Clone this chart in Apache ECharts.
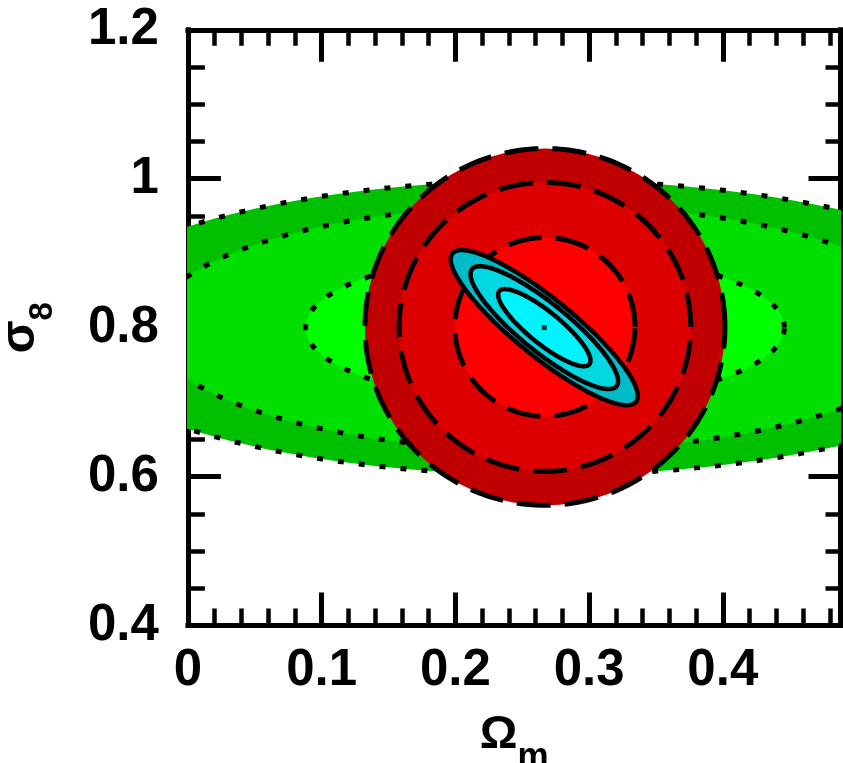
<!DOCTYPE html>
<html>
<head>
<meta charset="utf-8">
<title>Omega_m – sigma_8 constraints</title>
<script src="https://cdn.jsdelivr.net/npm/echarts@6/dist/echarts.min.js"></script>
<style>
  html, body { margin: 0; padding: 0; background: #ffffff; }
  #chart { width: 843px; height: 763px; }
</style>
</head>
<body>
<div id="chart"></div>
<script>
// ---- axes -------------------------------------------------------------
const omegaMin = 0;
const omegaMax = 0.488;
const omegaMajorStep = 0.1;
const omegaMinorStep = 0.02;
const sigmaMin = 0.4;
const sigmaMax = 1.2;
const sigmaMajorStep = 0.2;
const sigmaMinorStep = 0.05;

// ---- confidence regions, listed outermost (99%) to innermost (68%) ----
const levelNames = ['99%', '95%', '68%'];

// wide horizontal constraint (green, dotted outlines)
const greenCenter = [0.267, 0.800];
const greenHalfWidth = [0.367, 0.294, 0.179];
const greenHalfHeight = [0.198, 0.165, 0.101];
const greenColors = ['#00c000', '#00df00', '#00ff00'];

// round constraint (red, dashed outlines)
const redCenter = [0.267, 0.801];
const redHalfWidth = [0.1346, 0.109, 0.0673];
const redHalfHeight = [0.2395, 0.194, 0.120];
const redColors = ['#c00000', '#dd0000', '#ff0000'];

// tilted joint constraint (cyan, solid outlines):
// long and short semi-axis vectors as (ΔΩm, Δσ8)
const cyanCenter = [0.2665, 0.800];
const cyanLongAxis = [[0.0686, -0.0997], [0.0540, -0.0786], [0.0337, -0.0490]];
const cyanShortAxis = [[0.0136, 0.0303], [0.0113, 0.0250], [0.0075, 0.0167]];
const cyanColors = ['#00bcc8', '#00d8e2', '#00f4ff'];

// best-fit point
const bestFit = [[0.2665, 0.800]];

// ---- drawing helpers --------------------------------------------------
const FONT = 'Liberation Sans';

function contourRenderer(center, longAxes, shortAxes, fills, lineWidth, lineDash) {
  return function (params, api) {
    const i = params.dataIndex;
    const u = longAxes[i];
    const v = shortAxes[i];
    const points = [];
    const n = 240;
    for (let k = 0; k < n; k++) {
      const t = 2 * Math.PI * k / n;
      const c = Math.cos(t), s = Math.sin(t);
      points.push(api.coord([
        center[0] + u[0] * c + v[0] * s,
        center[1] + u[1] * c + v[1] * s
      ]));
    }
    return {
      type: 'polygon',
      shape: { points: points },
      style: {
        fill: fills[i],
        stroke: '#000000',
        lineWidth: lineWidth,
        lineDash: lineDash,
        lineCap: 'butt',
        lineJoin: 'round'
      }
    };
  };
}

function alignedAxes(halfW, halfH) {
  return {
    long: halfW.map(function (w) { return [w, 0]; }),
    short: halfH.map(function (h) { return [0, h]; })
  };
}

const greenAxes = alignedAxes(greenHalfWidth, greenHalfHeight);
const redAxes = alignedAxes(redHalfWidth, redHalfHeight);

function levelData() {
  return levelNames.map(function (name, i) { return { name: name, value: [i] }; });
}

const lineBlack = { color: '#000000', width: 5, cap: 'square' };

function valueAxis(opts) {
  return Object.assign({
    type: 'value',
    splitLine: { show: false },
    axisLabel: { show: false },
    axisTick: { show: true, inside: true },
    axisLine: { show: false, onZero: false }
  }, opts);
}

const labelStyle = {
  fontFamily: FONT,
  fontWeight: 'bold',
  fontSize: 51,
  color: '#000000'
};

const chart = echarts.init(document.getElementById('chart'), null, { renderer: 'canvas' });

chart.setOption({
  animation: false,
  backgroundColor: '#ffffff',
  grid: {
    left: 187.9, right: 2.5, top: 29.8, bottom: 137.5,
    containLabel: false,
    outerBoundsMode: 'none'
  },
  xAxis: [
    valueAxis({
      position: 'bottom', min: omegaMin, max: omegaMax, interval: omegaMajorStep,
      axisLine: { show: true, onZero: false, lineStyle: lineBlack },
      axisTick: { show: true, inside: true, length: 33, lineStyle: { color: '#000', width: 5 } },
      axisLabel: Object.assign({ show: true, margin: 20, showMaxLabel: false }, labelStyle),
      name: '{a|Ω}{b|m}',
      nameLocation: 'middle',
      nameGap: 86,
      nameTextStyle: {
        color: '#000',
        rich: {
          a: { fontFamily: FONT, fontWeight: 'bold', fontSize: 47, color: '#000', padding: [0, 0, 16, 0], verticalAlign: 'bottom' },
          b: { fontFamily: FONT, fontWeight: 'bold', fontSize: 35, color: '#000', verticalAlign: 'bottom' }
        }
      }
    }),
    valueAxis({
      position: 'bottom', min: omegaMin, max: omegaMax, interval: omegaMinorStep,
      axisTick: { show: true, inside: true, length: 17, lineStyle: { color: '#000', width: 4.5 } }
    }),
    valueAxis({
      position: 'top', min: omegaMin, max: omegaMax, interval: omegaMajorStep,
      axisLine: { show: true, onZero: false, lineStyle: lineBlack },
      axisTick: { show: true, inside: true, length: 32, lineStyle: { color: '#000', width: 5 } }
    }),
    valueAxis({
      position: 'top', min: omegaMin, max: omegaMax, interval: omegaMinorStep,
      axisTick: { show: true, inside: true, length: 16, lineStyle: { color: '#000', width: 4.5 } }
    })
  ],
  yAxis: [
    valueAxis({
      position: 'left', min: sigmaMin, max: sigmaMax, interval: sigmaMajorStep,
      axisLine: { show: true, onZero: false, lineStyle: lineBlack },
      axisTick: { show: true, inside: true, length: 33, lineStyle: { color: '#000', width: 5 } },
      axisLabel: Object.assign({ show: true, margin: 29 }, labelStyle),
      name: '{a|σ}{b|8}',
      nameLocation: 'middle',
      nameGap: 128,
      nameTextStyle: {
        color: '#000',
        rich: {
          a: { fontFamily: FONT, fontWeight: 'bold', fontSize: 48, color: '#000', padding: [0, 0, 15, 0], verticalAlign: 'bottom' },
          b: { fontFamily: FONT, fontWeight: 'bold', fontSize: 33, color: '#000', verticalAlign: 'bottom' }
        }
      }
    }),
    valueAxis({
      position: 'left', min: sigmaMin, max: sigmaMax, interval: sigmaMinorStep,
      axisTick: { show: true, inside: true, length: 17, lineStyle: { color: '#000', width: 4.5 } }
    }),
    valueAxis({
      position: 'right', min: sigmaMin, max: sigmaMax, interval: sigmaMajorStep,
      axisLine: { show: true, onZero: false, lineStyle: lineBlack },
      axisTick: { show: true, inside: true, length: 32, lineStyle: { color: '#000', width: 5 } }
    }),
    valueAxis({
      position: 'right', min: sigmaMin, max: sigmaMax, interval: sigmaMinorStep,
      axisTick: { show: true, inside: true, length: 15, lineStyle: { color: '#000', width: 4.5 } }
    })
  ],
  series: [
    {
      name: 'horizontal band',
      type: 'custom',
      xAxisIndex: 0, yAxisIndex: 0,
      clip: true,
      renderItem: contourRenderer(greenCenter, greenAxes.long, greenAxes.short, greenColors, 5, [6, 15]),
      data: levelData(),
      z: 1
    },
    {
      name: 'round region',
      type: 'custom',
      xAxisIndex: 0, yAxisIndex: 0,
      clip: true,
      renderItem: contourRenderer(redCenter, redAxes.long, redAxes.short, redColors, 5, [34, 14]),
      data: levelData(),
      z: 2
    },
    {
      name: 'joint region',
      type: 'custom',
      xAxisIndex: 0, yAxisIndex: 0,
      clip: true,
      renderItem: contourRenderer(cyanCenter, cyanLongAxis, cyanShortAxis, cyanColors, 4.5, null),
      data: levelData(),
      z: 3
    },
    {
      name: 'best fit',
      type: 'scatter',
      xAxisIndex: 0, yAxisIndex: 0,
      symbol: 'rect',
      symbolSize: 5,
      itemStyle: { color: '#000000' },
      data: bestFit,
      z: 4
    }
  ]
});
</script>
</body>
</html>
